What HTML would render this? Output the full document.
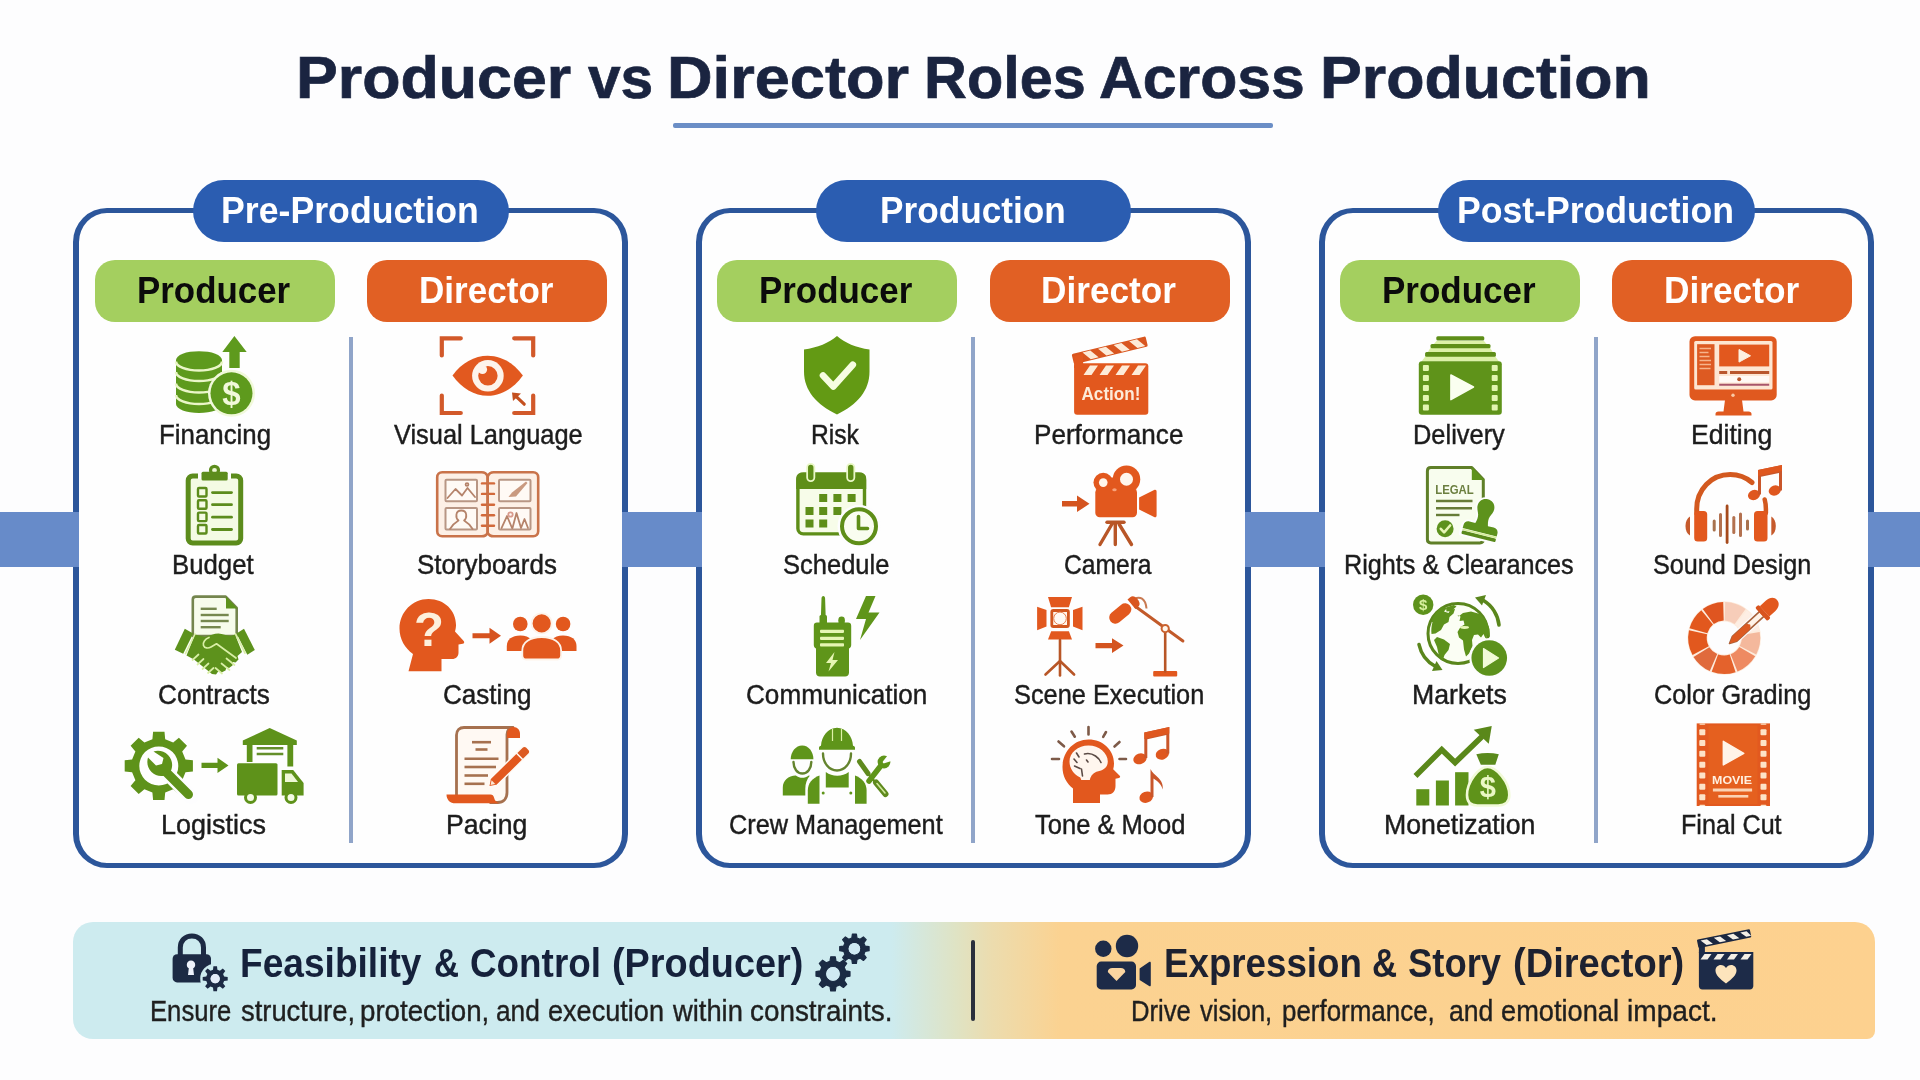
<!DOCTYPE html>
<html lang="en">
<head>
<meta charset="utf-8">
<title>Producer vs Director Roles Across Production</title>
<style>
*{box-sizing:border-box;margin:0;padding:0}
html,body{width:1920px;height:1080px;overflow:hidden;background:#fdfdfe}
body{font-family:"Liberation Sans",Arial,sans-serif;color:#1f1f1f}
ul{list-style:none}
.page{position:relative;width:1920px;height:1080px;background:#fdfdfe;filter:blur(.55px)}
.t{position:absolute;top:0;display:block;white-space:nowrap;transform-origin:0 50%}
.title{position:absolute;left:0;top:43px;width:1920px;height:70px;font-size:58.5px;line-height:70px;font-weight:700;color:#1a2440;-webkit-text-stroke:0.7px #1a2440}
.rule{position:absolute;left:673px;top:123px;width:600px;height:5px;background:#6b8ec6;border-radius:2px}
.band{position:absolute;top:512.3px;height:54.3px;background:#678bc9;z-index:2}
.panel{position:absolute;top:208px;height:660px;border:6px solid #2c569b;border-top-width:5px;border-bottom-width:5px;border-radius:34px;background:#fefefe}
.phase{position:absolute;top:-33px;height:62px;border-radius:31px;background:#2b5db1;color:#fff;font-size:36.5px;line-height:61px;font-weight:700}
.vline{position:absolute;top:124px;width:4.4px;height:506px;background:#90a5c9;margin-left:.3px}
.col{position:absolute;top:0;width:240px;height:650px}
.role{position:absolute;left:0;top:47px;width:240px;height:62px;border-radius:20px;font-size:36px;line-height:61.5px;font-weight:700}
.prod .role{background:#a4cf5f;color:#0b0b0b}
.dire .role{background:#e16024;color:#fff}
.items{position:absolute;left:-20px;top:120px;width:280px;height:520px}
.item{position:absolute;left:0;width:280px;height:130px}
.r0{top:0}.r1{top:130px}.r2{top:260px}.r3{top:390px}
.ic{position:absolute;left:0;top:0;width:280px;height:96px}
.ic svg{position:absolute;left:0;top:0;width:280px;height:96px;overflow:visible}
.lb{top:83.5px;height:36px;font-size:28px;line-height:36px;color:#1c1c1c;-webkit-text-stroke:0.45px #1c1c1c}
.banner{position:absolute;left:73px;top:922px;width:1802px;height:117px;border-radius:20px 20px 8px 20px;background:linear-gradient(90deg,#cdebef 0%,#cdebef 45.4%,#dfe3c4 49%,#ecdcae 51%,#fbd291 54.8%,#fdd18f 100%)}
.bhalf{position:static}
.bdiv{position:absolute;left:898px;top:18px;width:4px;height:81px;background:#2a2f3c;border-radius:2px}
.bh{position:absolute;left:0;top:15.6px;width:1802px;height:50px;font-size:40px;line-height:50px;font-weight:700;color:#15213b}
.bs{position:absolute;left:0;top:71px;width:1802px;height:36px;font-size:29.5px;line-height:36px;color:#1f1f1f;-webkit-text-stroke:0.4px #1f1f1f}
.bi{position:absolute;width:60px;height:60px}
.bi svg{position:absolute;left:0;top:0;width:60px;height:60px;overflow:visible}

.b2{color:#1d2130}

</style>
</head>
<body>
<main class="page">
<h1 class="title"><span class="t w" style="left:296.29px;transform:scaleX(1.0713)">Producer</span> <span class="t w" style="left:587.5px;transform:scaleX(1.0026)">vs</span> <span class="t w" style="left:666.76px;transform:scaleX(1.0791)">Director</span> <span class="t w" style="left:923.85px;transform:scaleX(1.0151)">Roles</span> <span class="t w" style="left:1098.86px;transform:scaleX(1.0372)">Across</span> <span class="t w" style="left:1319.59px;transform:scaleX(1.0713)">Production</span></h1>
<div class="rule"></div>
<div class="band" style="left:-10px;width:88.5px"></div>
<div class="band" style="left:622.2px;width:80px"></div>
<div class="band" style="left:1245px;width:80.2px"></div>
<div class="band" style="left:1868px;width:60px"></div>
<section class="panel" style="left:73px;width:555px">
<h2 class="phase" style="left:114px;width:315.5px"><span class="t pt" style="left:28.04px;transform:scaleX(0.9776)">Pre-Production</span></h2>
<div class="vline" style="left:269.5px"></div>
<div class="col prod" style="left:16px">
<h3 class="role"><span class="t rt" style="left:41.86px;transform:scaleX(0.969)">Producer</span></h3>
<ul class="items">
<li class="item r0"><div class="ic"><svg viewBox="75 333 280 96" aria-hidden="true"><g fill="#5e9a1d"><path d="M176 360v44c0 5 10.300 9 23 9s23-4 23-9v-44z"/><ellipse cx="199" cy="360" rx="23" ry="8.800"/><path d="M234.400 336l12.300 16h-7v16h-10.400v-16h-7z"/></g><g fill="none" stroke="#eaf6c8" stroke-width="2.600"><path d="M176 361.500c0 5 10.300 9 23 9s23-4 23-9"/><path d="M176 372c0 5 10.300 9 23 9s23-4 23-9"/><path d="M176 383.500c0 5 10.300 9 23 9s23-4 23-9"/><path d="M176 395c0 5 10.300 9 23 9s23-4 23-9"/></g><circle cx="231.500" cy="393.300" r="23.500" fill="#f1f9da"/><circle cx="231.500" cy="393.300" r="21" fill="#5e9a1d"/><text x="231.500" y="405" text-anchor="middle" font-family="Liberation Sans,Arial,sans-serif" font-weight="700" font-size="33" fill="#f1f9da">$</text></svg></div><span class="t lb" style="left:83.65px;transform:scaleX(0.9233)">Financing</span></li>
<li class="item r1"><div class="ic"><svg viewBox="75 463 280 96" aria-hidden="true"><rect x="188.200" y="476" width="52.500" height="67" rx="4.500" fill="#f4fbe4" stroke="#5c8c1c" stroke-width="5"/><rect x="198" y="470" width="33" height="9" fill="#fdfdfe"/><circle cx="214.500" cy="470.300" r="4" fill="#eef8d6" stroke="#5c8c1c" stroke-width="3.200"/><rect x="201.500" y="471.800" width="26.200" height="8.800" rx="1.500" fill="#5c8c1c"/><g fill="none" stroke="#5c8c1c" stroke-width="2.400"><rect x="198" y="488" width="8.500" height="8.500" rx="1"/><rect x="198" y="500.200" width="8.500" height="8.500" rx="1"/><rect x="198" y="512.600" width="8.500" height="8.500" rx="1"/><rect x="198" y="525" width="8.500" height="8.500" rx="1"/></g><g fill="none" stroke="#5c8c1c" stroke-width="2.800" stroke-linecap="round"><path d="M212.500 492.600h19"/><path d="M212.500 504.700h19"/><path d="M212.500 517.200h19"/><path d="M212.500 529.500h19"/></g></svg></div><span class="t lb" style="left:97.16px;transform:scaleX(0.9199)">Budget</span></li>
<li class="item r2"><div class="ic"><svg viewBox="75 593 280 96" aria-hidden="true"><path d="M192.800 636v-36.500c0-1.700 1.200-2.900 2.900-2.900h30l11 11.400v28z" fill="#f7fcec" stroke="#74854e" stroke-width="2.600" stroke-linejoin="round"/><path d="M226 596.500l11.500 12h-11.500z" fill="#5d921c"/><g fill="none" stroke="#76884f" stroke-width="2.400"><path d="M200.700 608.800h16"/><path d="M200.700 615h28"/><path d="M200.700 621h28"/><path d="M200.700 627.200h20"/></g><g fill="#5d921c"><path d="M184.800 628.800l8.400 4.600-10 20.400-8.400-4.100z"/><path d="M244 628.800l10.800 21.200-7.500 4.700-10.800-21.300z"/><path d="M195 634.500l10 2.500c5-1.500 9-3.500 13.500-3.500 4 0 8 2.500 12.500 2.500l4-1.500 7 17.500-4.500 4 1 3.500-3 3-2.500-.5-.5 3.500-3.500 2.500-2.500-1-1 3.500-4 2-3-1.500-2.500 3.500-4-.5-18-14.500-7.500-4z"/></g><g fill="none" stroke="#d9efa6" stroke-width="1.700" stroke-linecap="round" stroke-linejoin="round"><path d="M195 634l-9.500 19.500"/><path d="M235.500 634l9.500 19"/><path d="M209 637.500c-4 1.500-6.500 5-5.500 8 1 2.800 4.500 3.200 7.500 1.500l5.500-3.200 19.500 14.200"/><path d="M192.500 660l6-5.500M197.500 664.500l6-5.500M202.500 669l6-5.500M208 673l5.500-5"/><path d="M221.500 663.500l8 6.500M226.500 658.500l8 6.500M215.500 668l6.500 5.500"/></g></svg></div><span class="t lb" style="left:83.07px;transform:scaleX(0.9336)">Contracts</span></li>
<li class="item r3"><div class="ic"><svg viewBox="75 723 280 96" aria-hidden="true"><path d="M152.4 739.2L153.1 731.8L164.5 731.8L165.2 739.2L173.2 742.5L178.9 737.7L187.0 745.8L182.2 751.5L185.5 759.5L192.9 760.2L192.9 771.6L185.5 772.3L182.2 780.3L187.0 786.0L178.9 794.1L173.2 789.3L165.2 792.6L164.5 800.0L153.1 800.0L152.4 792.6L144.4 789.3L138.7 794.1L130.6 786.0L135.4 780.3L132.1 772.3L124.7 771.6L124.7 760.2L132.1 759.5L135.4 751.5L130.6 745.8L138.7 737.7L144.4 742.5zM139.3 765.9a19.5 19.5 0 1 0 39.0 0a19.5 19.5 0 1 0 -39.0 0z" fill="#5e921a" fill-rule="evenodd"/><path d="M158 764l33 33" stroke="#fdfdfe" stroke-width="14" stroke-linecap="round" fill="none"/><path d="M163 769l25.500 25.500" stroke="#5e921a" stroke-width="9" stroke-linecap="round" fill="none"/><path d="M153.500 751.500c5-1.500 10.500-.5 14.500 3.500 5 5 5.500 12.500 1.500 18-5.500 4.500-13 4-18-1-4-4-5-9.500-3.500-14.500l8 8 6-1.500 1.500-6z" fill="#5e921a"/><path d="M201.500 762.700h16v-5l11 7.700-11 7.700v-5h-16z" fill="#5e921a"/><path d="M269.700 727.900l27.100 12.600v4.500h-54v-4.500z" fill="#5e921a"/><path d="M246.800 744h5.700v18h-5.700zM287.400 744h5.800v22.500h-5.800z" fill="#5e921a"/><path d="M256.700 748.200h26.600M256.700 754h26.600" stroke="#648f2a" stroke-width="2.400" fill="none"/><rect x="237" y="763.300" width="40.500" height="32.300" rx="1.500" fill="#5e921a"/><path d="M281.700 770h11.500l10.400 13v12.600h-21.900z" fill="#5e921a"/><path d="M285 773.500h6.500l6.500 8.500h-13z" fill="#eef8d6"/><g fill="#f4fbe4" stroke="#5e921a" stroke-width="3"><circle cx="250.500" cy="797.500" r="5"/><circle cx="291" cy="797.500" r="5"/></g></svg></div><span class="t lb" style="left:86.07px;transform:scaleX(0.9628)">Logistics</span></li>
</ul></div>
<div class="col dire" style="left:287.5px">
<h3 class="role"><span class="t rt" style="left:52.05px;transform:scaleX(0.974)">Director</span></h3>
<ul class="items">
<li class="item r0"><div class="ic"><svg viewBox="346.5 333 280 96" aria-hidden="true"><g fill="none" stroke="#d2592a" stroke-width="4.200" stroke-linecap="round" stroke-linejoin="miter"><path d="M441.300 355.500v-17.200h19"/><path d="M513.700 338.300h19v17.200"/><path d="M441.300 395.500v17.500h19"/><path d="M513.700 413h19v-17.500"/></g><path d="M452 375.500c9-12.500 22-19.700 35.200-19.700s26.200 7.200 35.200 19.700c-9 12.800-22 20.300-35.200 20.300s-26.200-7.500-35.200-20.300z" fill="#e2591f"/><circle cx="487.400" cy="375.800" r="15.800" fill="#fdf3ea"/><circle cx="487.400" cy="375.800" r="9.700" fill="#e2591f"/><circle cx="482" cy="369.500" r="4.600" fill="#fdf3ea"/><path d="M523.700 404.200l-9-8.600" fill="none" stroke="#c4501f" stroke-width="3.200" stroke-linecap="round"/><path d="M511.500 392.500l9 1-8 7.500z" fill="#c4501f"/></svg></div><span class="t lb" style="left:47.3px;transform:scaleX(0.9068)">Visual Language</span></li>
<li class="item r1"><div class="ic"><svg viewBox="346.5 463 280 96" aria-hidden="true"><g fill="#fdf0e6" stroke="#c9734a" stroke-width="2.600" stroke-linejoin="round"><path d="M487.200 476.500c-1-2.600-3-4.200-6-4.200h-39.500c-3 0-5 2-5 5v54c0 3 2 5 5 5h39.500c3 0 5-1.500 6-3.500z"/><path d="M487.200 476.500c1-2.600 3-4.200 6-4.200h39.500c3 0 5 2 5 5v54c0 3-2 5-5 5h-39.500c-3 0-5-1.500-6-3.500z"/></g><g fill="#fffaf5" stroke="#b89684" stroke-width="2"><rect x="445" y="479.800" width="31.500" height="21.500" rx="1"/><rect x="445" y="508" width="31.500" height="21.500" rx="1"/><rect x="498.500" y="479.800" width="31.500" height="21.500" rx="1"/><rect x="498.500" y="508" width="31.500" height="21.500" rx="1"/></g><g fill="none" stroke="#b5836a" stroke-width="1.800" stroke-linejoin="round" stroke-linecap="round"><path d="M447 498l8-9 6.500 6.500 5.500-7.500 7.500 9"/><circle cx="466.500" cy="484.500" r="1.400"/><path d="M449.500 529c3-5 6-7 8.500-8.500-3-2.500-3.500-10 2.800-10s5.800 7.500 2.800 10c2.500 1.500 5.500 3.500 8.500 8.500"/><path d="M501 528l5.500-12 5 12M512 528l4-15 4.500 15M520.500 528l3.500-9 3.500 9"/><circle cx="510" cy="514.500" r="2.200" stroke="#d99a8c"/><path d="M508 497l3.500-4.500 14-11 1.500 1.500-11.500 13.500z" fill="#c99a80" stroke="none"/></g><g fill="none" stroke="#d2693a" stroke-width="2.400" stroke-linecap="round"><path d="M481.500 483.400h12"/><path d="M481.500 493.900h12"/><path d="M481.500 504.700h12"/><path d="M481.500 515.300h12"/><path d="M481.500 525.700h12"/></g><path d="M487.200 475v59" stroke="#c9734a" stroke-width="1.800" fill="none"/></svg></div><span class="t lb" style="left:70.57px;transform:scaleX(0.9264)">Storyboards</span></li>
<li class="item r2"><div class="ic"><svg viewBox="346.5 593 280 96" aria-hidden="true"><path d="M428 599c16 0 27.500 11.500 27.500 26 0 2.500-.5 4.500-1 6.500l8.700 9.500c1 1.200.5 2.500-1 2.800l-4.200.7v8c0 4-2.500 6.500-6.500 6.500h-10.500v12.300h-33l4.500-17.300c-8-6-13.500-14.500-13.500-25.500 0-16.500 13-29.500 29-29.500z" fill="#e2581e"/><text x="428.500" y="645.500" text-anchor="middle" font-family="Liberation Sans,Arial,sans-serif" font-weight="700" font-size="49" fill="#fdf0dc">?</text><path d="M472 633.200h17v-5.500l11.500 8-11.500 8v-5.500h-17z" fill="#d6531f"/><g fill="#e2581e"><circle cx="519.800" cy="624" r="7.300"/><circle cx="562.600" cy="624" r="7.300"/><path d="M506.300 651v-5c0-6.500 5-10.600 13.500-10.600 5 0 8.500 1.500 10.500 4l-7 11.600z"/><path d="M576 651v-5c0-6.500-5-10.600-13.500-10.600-5 0-8.500 1.500-10.500 4l7 11.600z"/></g><g fill="#e2581e" stroke="#fdf3ea" stroke-width="1.800"><circle cx="541.200" cy="623.400" r="10"/><path d="M521.800 655.500v-5c0-8 7.500-13.500 19.400-13.500s19.400 5.500 19.400 13.500v5c0 2.500-1.500 4-4 4h-30.800c-2.500 0-4-1.500-4-4z"/></g></svg></div><span class="t lb" style="left:96.57px;transform:scaleX(0.9311)">Casting</span></li>
<li class="item r3"><div class="ic"><svg viewBox="346.5 723 280 96" aria-hidden="true"><path d="M456 796v-61c0-4.500 3-7.500 7.500-7.500h49c-4 0-6 3-6 7v58c0 6-3.500 10-9.500 10h-8" fill="#fff9f3" stroke="#a6714f" stroke-width="2.800" stroke-linejoin="round"/><path d="M506.500 738v-4c0-4 2.500-7 6.500-7s6.500 3 6.500 7v4z" fill="#e2581e"/><path d="M446 794.500h44c2 0 3 1 3.500 3 .8 3.200 2.500 5 5.500 5.800h-44c-5.500 0-9-3.500-9-8.800z" fill="#e2581e"/><g fill="none" stroke="#a6714f" stroke-width="2.600"><path d="M471.500 742.200h19"/><path d="M475 749.500h12"/><path d="M464 758.800h34"/><path d="M464 767h31.500"/><path d="M464 775.500h23.500"/><path d="M464 783.800h20"/></g><g transform="rotate(-44.500 489 786)"><path d="M487 786l6-5.500h46c2 0 3.500 1.500 3.500 3.500v4c0 2-1.500 3.500-3.500 3.500h-46z" fill="#fffaf5"/><path d="M489 786l5.500-3.800v-.2h36v8h-36v-.2z" fill="#e2581e" transform="translate(0 0)"/><path d="M530.500 782h7.500c1.500 0 2.500 1 2.500 2.500v3c0 1.500-1 2.500-2.500 2.500h-7.500z" fill="#dc5a22" transform="translate(1.500 0)"/><path d="M490.500 786l4-2.600v5.200z" fill="#fde7d2"/></g></svg></div><span class="t lb" style="left:99.6px;transform:scaleX(0.9507)">Pacing</span></li>
</ul></div>
</section>
<section class="panel" style="left:696px;width:555px">
<h2 class="phase" style="left:113.5px;width:315.7px"><span class="t pt" style="left:64.57px;transform:scaleX(0.9639)">Production</span></h2>
<div class="vline" style="left:268.5px"></div>
<div class="col prod" style="left:15px">
<h3 class="role"><span class="t rt" style="left:42.26px;transform:scaleX(0.9697)">Producer</span></h3>
<ul class="items">
<li class="item r0"><div class="ic"><svg viewBox="697 333 280 96" aria-hidden="true"><path d="M837 336c8 7 19 11.500 32.500 13.500v22c0 19-12 33-32.500 43-20.500-10-33-24-33-43v-22c13.500-2 25-6.500 33-13.500z" fill="#639a14"/><path d="M823 375.500l10.300 11 19.500-21.800" fill="none" stroke="#f6fde0" stroke-width="6.600" stroke-linecap="round" stroke-linejoin="round"/></svg></div><span class="t lb" style="left:114.24px;transform:scaleX(0.8795)">Risk</span></li>
<li class="item r1"><div class="ic"><svg viewBox="697 463 280 96" aria-hidden="true"><rect x="797.900" y="474.300" width="66.600" height="59.600" rx="5.500" fill="#f7fce9" stroke="#5e8e18" stroke-width="3.400"/><path d="M796.200 489v-10.500c0-3.500 2.500-6 6-6h58c3.500 0 6 2.500 6 6v10.500z" fill="#5e8e18"/><g fill="none" stroke-linecap="round"><path d="M810.750 467.500v10M850.750 467.500v10" stroke="#e9f7c6" stroke-width="9"/><path d="M810.750 467.500v10M850.750 467.500v10" stroke="#5e8e18" stroke-width="5.400"/></g><g fill="#5e8e18"><rect x="819.200" y="494" width="8" height="8"/><rect x="833.400" y="494" width="8" height="8"/><rect x="847.600" y="494" width="8" height="8"/><rect x="805.500" y="507" width="8" height="8"/><rect x="819.200" y="507" width="8" height="8"/><rect x="833.400" y="507" width="8" height="8"/><rect x="805.500" y="519.500" width="8" height="8"/><rect x="819.200" y="519.500" width="8" height="8"/></g><circle cx="859" cy="526.300" r="21.500" fill="#fdfdfe"/><circle cx="859" cy="526.300" r="17" fill="#f9fdf0" stroke="#5e8e18" stroke-width="4"/><path d="M858.500 516.500v12h9" fill="none" stroke="#5e8e18" stroke-width="3.600" stroke-linecap="round" stroke-linejoin="round"/></svg></div><span class="t lb" style="left:86.09px;transform:scaleX(0.9116)">Schedule</span></li>
<li class="item r2"><div class="ic"><svg viewBox="697 593 280 96" aria-hidden="true"><g fill="#5f951a"><path d="M820.700 623l.8-24.500c0-1.500 .8-2.500 1.800-2.500s1.800 1 1.800 2.500l.8 24.500z"/><rect x="819.500" y="615" width="7.500" height="9" rx="1.500"/><circle cx="841.600" cy="619.700" r="3.200"/><rect x="838.500" y="619.700" width="6.200" height="4"/><path d="M817 622.500h31c2 0 3.200 1.200 3.200 3.200v19.300c0 2-1 3-2.200 3.500v24c0 2.500-1.500 4-4 4h-25c-2.500 0-4-1.500-4-4v-24c-1.200-.5-2.200-1.500-2.200-3.500v-19.300c0-2 1.200-3.200 3.200-3.200z"/><path d="M866 596h9.500l-7 16.500h11l-19.500 27.500 6-21h-10z"/></g><g fill="#e6f6b4"><rect x="820" y="629.700" width="24" height="3.200" rx=".8"/><rect x="820" y="636.700" width="24" height="3.200" rx=".8"/><rect x="820" y="643.300" width="24" height="3.200" rx=".8"/><path d="M834.500 652l-8.500 11h5l-2.500 8.500 9.500-11.500h-5.500z"/></g></svg></div><span class="t lb" style="left:49.07px;transform:scaleX(0.9325)">Communication</span></li>
<li class="item r3"><div class="ic"><svg viewBox="697 723 280 96" aria-hidden="true"><g fill="#5f951a"><path d="M790.700 759.300c0-7.500 5-13.800 11.500-13.800s11.200 6.300 11.200 13.800z"/><path d="M782.800 795.500v-8c0-7 5.500-12 13-12 2 1.500 4.500 2.300 6.500 2.300s4.500-.8 6.500-2.300l1 .2c-3 3.500-4.500 8-4.500 13v6.800z"/><path d="M819 749.700v-2c0-1 .8-1.800 2-2 .5-9.500 7-18 16-18s15.500 8.500 16 18c1.200.2 2 1 2 2v2z"/><path d="M825.800 772c3.500 2.500 7 3.800 11.400 3.800s8-1.300 11.500-3.800v15.600h-22.900z"/><path d="M819.500 775.500v28.300h-11.700v-13.300c0-7 4.500-12.500 11.700-15z"/><path d="M855 775.500v28.300h11.600v-13.300c0-7-4.500-12.500-11.600-15z"/><circle cx="823.200" cy="793" r="1.500"/><circle cx="850.800" cy="793" r="1.500"/></g><path d="M832.500 729v12M841.500 729v12" stroke="#dff2a8" stroke-width="1.200" fill="none"/><g fill="none" stroke="#64842e" stroke-width="2.400" stroke-linecap="round"><path d="M793.500 762c0 6.500 3.800 11.500 8.900 11.500s8.900-5 8.900-11.500"/><path d="M823 753.500c0 9.500 6 17 14 17s14-7.500 14-17"/></g><g fill="none" stroke-linecap="round"><path d="M859.500 761.500l8.500 12" stroke="#5f8a1e" stroke-width="5"/><path d="M868 773.500l7.500 9" stroke="#5f8a1e" stroke-width="2.500"/><path d="M876 782.500l9.500 11.500" stroke="#5f8a1e" stroke-width="6"/><path d="M877 783.500l8 9.500" stroke="#cfe79a" stroke-width="1.600"/><path d="M869 781l12-15.500" stroke="#5f951a" stroke-width="5.500"/></g><circle cx="884" cy="762" r="6.400" fill="#5f951a"/><path d="M884 762l9-8.500 3 6.500z" fill="#fefefe" stroke="#fefefe" stroke-width="2.500" stroke-linejoin="round" transform="rotate(-8 884 762)"/></svg></div><span class="t lb" style="left:32.1px;transform:scaleX(0.9034)">Crew Management</span></li>
</ul></div>
<div class="col dire" style="left:287.5px">
<h3 class="role"><span class="t rt" style="left:51.04px;transform:scaleX(0.9777)">Director</span></h3>
<ul class="items">
<li class="item r0"><div class="ic"><svg viewBox="969.5 333 280 96" aria-hidden="true"><rect x="1073.600" y="363.300" width="74.200" height="51.500" rx="3" fill="#e2581e"/><g fill="#fdebd8"><path d="M1089.500 365.500h8l-6.500 9.500h-8zM1105.500 365.500h8l-6.500 9.500h-8zM1121.500 365.500h8l-6.500 9.500h-8zM1137.500 365.500h8l-6.500 9.500h-8z"/></g><g transform="translate(1.500 6) rotate(-13.500 1073 358)"><rect x="1072" y="347.500" width="76" height="10.500" rx="1.500" fill="#d9561f"/><path d="M1083 348.500h8l6.500 8.500h-8zM1099 348.500h8l6.500 8.500h-8zM1115 348.500h8l6.500 8.500h-8zM1131 348.500h8l6.500 8.500h-8z" fill="#fdebd8"/></g><path d="M1073.600 356l9-2v14h-9z" fill="#e2581e"/><text x="1110.500" y="400.400" text-anchor="middle" font-family="Liberation Sans,Arial,sans-serif" font-weight="700" font-size="18.500" textLength="59" lengthAdjust="spacingAndGlyphs" fill="#fdebd8">Action!</text></svg></div><span class="t lb" style="left:64.64px;transform:scaleX(0.9321)">Performance</span></li>
<li class="item r1"><div class="ic"><svg viewBox="969.5 463 280 96" aria-hidden="true"><g fill="#e2581e"><circle cx="1102.750" cy="482.600" r="9.800"/><circle cx="1126" cy="479.250" r="13.750"/><path d="M1104 477.500h14v13h-14z"/><rect x="1094.800" y="488" width="41.700" height="29.200" rx="4.500"/><path d="M1138.600 497.500l15-7.500c1.500-.8 2.500 0 2.500 1.500v24c0 1.500-1 2.300-2.500 1.500l-15-7.500z"/><path d="M1061.500 501h15v-5.500l12.500 8.300-12.500 8.300v-5.500h-15z" fill="#d4541f"/></g><circle cx="1102.750" cy="482.600" r="4.300" fill="#fff6ec"/><circle cx="1126" cy="479.250" r="6.500" fill="#fff6ec"/><ellipse cx="1114" cy="489.800" rx="2.200" ry="1.500" fill="#f7a27a"/><g fill="none" stroke="#b85627" stroke-width="3.400" stroke-linecap="round"><path d="M1106.500 522.200h17"/><path d="M1111.500 524l-12 20.500M1114.800 524v20.500M1118.500 524l12.500 20.500"/></g></svg></div><span class="t lb" style="left:94.62px;transform:scaleX(0.8787)">Camera</span></li>
<li class="item r2"><div class="ic"><svg viewBox="969.5 593 280 96" aria-hidden="true"><g fill="#e2581e"><path d="M1047.500 597h24l-3.100 10.300h-17.800z"/><path d="M1050.700 631.200h17.700l3.100 8.400h-24z"/><path d="M1036.600 606.800l9.400 3.200v16.500l-9.400 3.700z"/><path d="M1082 606.800l-9.500 3.200v16.500l9.500 3.700z"/><path d="M1095 643h16.500v-4.800l11.500 7.400-11.500 7.400v-4.800h-16.500z" fill="#d4541f"/><rect x="1152.700" y="671" width="24" height="5.500" rx="1"/></g><rect x="1051.300" y="610.500" width="16.600" height="16" rx="1.500" fill="#fff6ec" stroke="#d2571f" stroke-width="2.800"/><circle cx="1059.500" cy="618.400" r="6.300" fill="#fffaf4" stroke="#e8804f" stroke-width="1"/><g fill="none" stroke="#b85627" stroke-width="2.600" stroke-linecap="round"><path d="M1059.500 640v35.500"/><path d="M1059.500 661l-14.500 13.500M1059.500 661l14.100 13.500"/><path d="M1164.700 632.500v39"/></g><path d="M1135 606.500l47.400 34.500" fill="none" stroke="#c25a2a" stroke-width="3" stroke-linecap="round"/><path d="M1134 599c5-3 11-1 12 9.500" fill="none" stroke="#c97a52" stroke-width="2"/><g transform="rotate(-39.500 1124 610)"><rect x="1106" y="603.800" width="25" height="12.400" rx="6.200" fill="#e2581e"/><path d="M1133 603.800h3.500c3 0 4.500 2.500 4.500 6.200s-1.500 6.200-4.500 6.200h-3.500z" fill="#d9561f"/></g><circle cx="1164.700" cy="628.600" r="3.600" fill="#fff6ec" stroke="#c9622f" stroke-width="2"/></svg></div><span class="t lb" style="left:44.59px;transform:scaleX(0.9057)">Scene Execution</span></li>
<li class="item r3"><div class="ic"><svg viewBox="969.5 723 280 96" aria-hidden="true"><path d="M1088 739.500c14.500 0 25.500 10.500 25.500 24 0 2-.3 4-.8 5.800l6.500 6.500c.8 1 .5 2-.8 2.300l-3.400.7v7.200c0 5-3 8.500-8 8.500h-7.500v8.500h-27v-14.500c-6.500-5-10.500-12.500-10.500-21.500 0-15.500 11.500-27.500 26-27.500z" fill="#e2581e"/><path d="M1088 745.500c10.500 0 19.300 7.500 19.300 16 0 5-3.500 8.500-8.500 9.500-4 .8-7.500 3-9 7l-.5 2h-8.500l-1-2.500c-6.500-3-10.800-9-10.800-16 0-9 8.500-16 19-16z" fill="#fff6ee"/><g fill="none" stroke="#5a4a44" stroke-width="1.600" stroke-linecap="round"><path d="M1076 753l2.500 4M1073.500 759l3 3.500M1074 766l5.500 2.500M1081 769l1 7"/><path d="M1084 754c4-1 8 0 11 2s4.500 4 5.500 6.500"/><path d="M1086 760l1.500 2"/></g><g fill="none" stroke="#7d5a48" stroke-width="2.600" stroke-linecap="round"><path d="M1051.500 759h7M1058 741.500l5.500 4.800M1071 731.500l3.300 5.200M1088 727v7.500M1105.500 732l-2.800 4.800M1119 742l-5 4.500M1119 759h6.500"/></g><g fill="#df571f"><ellipse cx="1139.500" cy="758.800" rx="6.800" ry="5.300" transform="rotate(-20 1139.500 758.800)"/><ellipse cx="1161.800" cy="754.200" rx="6.800" ry="5.300" transform="rotate(-20 1161.800 754.200)"/><path d="M1143.800 758v-25.500l25-5.500v26.500h-3v-18.500l-19 4.200v18.800z" fill="#c9562a"/><path d="M1143.800 732.500l25-5.500v6.500l-25 5.500z"/><ellipse cx="1145.700" cy="797.200" rx="7" ry="5.500" transform="rotate(-20 1145.700 797.200)"/><path d="M1150 797v-28c1.500 3.500 5 6 8 9s5 7 4 11.500c-.5-3.500-3-6.500-5.500-8.500l-3.500-2.500v18.500z" fill="#c9562a"/></g></svg></div><span class="t lb" style="left:65.5px;transform:scaleX(0.9118)">Tone &amp; Mood</span></li>
</ul></div>
</section>
<section class="panel" style="left:1319px;width:555px">
<h2 class="phase" style="left:113px;width:316.5px"><span class="t pt" style="left:18.85px;transform:scaleX(0.9755)">Post-Production</span></h2>
<div class="vline" style="left:268.5px"></div>
<div class="col prod" style="left:14.5px">
<h3 class="role"><span class="t rt" style="left:42.36px;transform:scaleX(0.9722)">Producer</span></h3>
<ul class="items">
<li class="item r0"><div class="ic"><svg viewBox="1319.5 333 280 96" aria-hidden="true"><path d="M1436 341h47.500l6.500 7.500 5.500 9 3 4h-77.500l3-4 5.500-9z" fill="#dcf0a8"/><g fill="#5e8e18"><rect x="1435.800" y="336.200" width="48" height="4.400" rx="1.500"/><rect x="1430" y="344" width="60" height="4.200" rx="1.500"/><rect x="1424.600" y="352" width="70.800" height="4.800" rx="1.500"/><rect x="1418.300" y="361.200" width="83" height="53.600" rx="3" fill="#5f931a"/></g><g fill="#e2f5b0"><rect x="1422.400" y="365" width="6" height="6" rx="1"/><rect x="1422.400" y="375" width="6" height="6" rx="1"/><rect x="1422.400" y="385" width="6" height="6" rx="1"/><rect x="1422.400" y="395" width="6" height="6" rx="1"/><rect x="1422.400" y="404.600" width="6" height="6" rx="1"/><rect x="1491.200" y="365" width="6" height="6" rx="1"/><rect x="1491.200" y="375" width="6" height="6" rx="1"/><rect x="1491.200" y="385" width="6" height="6" rx="1"/><rect x="1491.200" y="395" width="6" height="6" rx="1"/><rect x="1491.200" y="404.600" width="6" height="6" rx="1"/></g><path d="M1450.400 375l22.600 12-22.600 12.600z" fill="#fafff0" stroke="#fafff0" stroke-width="1.500" stroke-linejoin="round"/></svg></div><span class="t lb" style="left:93.68px;transform:scaleX(0.9079)">Delivery</span></li>
<li class="item r1"><div class="ic"><svg viewBox="1319.5 463 280 96" aria-hidden="true"><path d="M1426.900 471c0-2 1.300-3.400 3.400-3.400h41l11.500 12v60c0 2-1.300 3.300-3.400 3.300h-49.100c-2 0-3.400-1.300-3.400-3.300z" fill="#f8fdee" stroke="#5f7f28" stroke-width="3" stroke-linejoin="round"/><path d="M1471.300 467l12.500 13h-12.500z" fill="#5d921c"/><text x="1454" y="493.800" text-anchor="middle" font-family="Liberation Sans,Arial,sans-serif" font-weight="700" font-size="12.500" textLength="38.500" lengthAdjust="spacingAndGlyphs" fill="#6b7f3f">LEGAL</text><g fill="none" stroke="#667c36" stroke-width="2.400"><path d="M1435.500 501h36.500"/><path d="M1435.500 508.300h36"/><path d="M1435.500 515h23.500"/></g><circle cx="1444.600" cy="528.800" r="8.500" fill="#5d921c"/><path d="M1440.300 528.800l3.300 3.500 6-6.800" fill="none" stroke="#e6f6b4" stroke-width="2.600" stroke-linecap="round" stroke-linejoin="round"/><g transform="translate(2 3) rotate(14 1479 520)"><path d="M1462 526h35v9h-35z" fill="#fdfdfe" stroke="#fdfdfe" stroke-width="5" stroke-linejoin="round"/><path d="M1479.500 495.500c5 0 8.500 3.500 8.500 8.500 0 3-1.500 5-2.500 8-1 3-.5 6 .5 9.500h6c3 0 5 2 5 5v3h-35v-3c0-3 2-5 5-5h6c1-3.500 1.500-6.500.5-9.500-1-3-2.500-5-2.500-8 0-5 3.500-8.500 8.500-8.500z" fill="#fdfdfe" stroke="#fdfdfe" stroke-width="3.500"/><path d="M1479.500 495.500c5 0 8.500 3.500 8.500 8.500 0 3-1.500 5-2.500 8-1 3-.5 6 .5 9.500h6c3 0 5 2 5 5v3h-35v-3c0-3 2-5 5-5h6c1-3.500 1.500-6.500.5-9.500-1-3-2.500-5-2.500-8 0-5 3.500-8.500 8.500-8.500z" fill="#5d921c"/><rect x="1462" y="531.800" width="35" height="3.600" rx="1" fill="#5a8a1c"/><path d="M1462 530.600h35" stroke="#d6ee9a" stroke-width="1.600"/></g></svg></div><span class="t lb" style="left:24.7px;transform:scaleX(0.9)">Rights &amp; Clearances</span></li>
<li class="item r2"><div class="ic"><svg viewBox="1319.5 593 280 96" aria-hidden="true"><circle cx="1457.500" cy="633.400" r="30" fill="#fbfef4" stroke="#5a861c" stroke-width="3"/><g fill="#5d921c"><path d="M1431 622c1.500-6 5.500-11.500 10.500-15l5 1-3 3.500 4.500 1.500 2-3.500 4.500-.5-1.500 4.500-4 3.500-1 5-4.500 2.500-3 5.500-5.500 3.500-4 .5c-.5-4 0-8 1-12z"/><path d="M1445.500 607.500l7.500-2.500 3 1.500-5 4.500-5 .5z"/><path d="M1436.500 637l7 2.500 6 4.500-1.500 6-4 5-2 6-3.500-5-2-9-3-7z"/><path d="M1458 616.500l4.500-3.500 8-1.500 9 2.500 6 6 3.500 9 .5 8.500-2.500-3-2 4-2-4.500-2.500 3.500-3-3-4 .5-2 5 .5 6-3.500 7.500-3 3-2-7-1-9-4-3-1.500-5.500 3-5 4-2.500-1-4-4 .5 1-4.500-3-1.500z"/></g><ellipse cx="1464" cy="627.500" rx="4.500" ry="1.400" fill="#e6f6b4"/><circle cx="1422.700" cy="604.700" r="10.200" fill="#5d921c"/><text x="1422.700" y="610.200" text-anchor="middle" font-family="Liberation Sans,Arial,sans-serif" font-weight="700" font-size="15" fill="#d9f0a0">$</text><g fill="none" stroke="#5a861c" stroke-width="3.600" stroke-linecap="round"><path d="M1498.500 625c-1-10-7-19.500-15.500-24.500"/><path d="M1418.500 644.500c2 9.500 8 17.500 16.500 22"/></g><path d="M1474.500 597.500l11-2.500-4 10.500z" fill="#5a861c"/><path d="M1442 670l-10.500 1 4.500-10z" fill="#5a861c"/><circle cx="1488.750" cy="658" r="20" fill="#fdfdfe"/><circle cx="1488.750" cy="658" r="17.800" fill="#5d921c"/><path d="M1483 648.500l15 9.500-15 9.500z" fill="#f2fbd8" stroke="#f2fbd8" stroke-width="1.200" stroke-linejoin="round"/></svg></div><span class="t lb" style="left:92.59px;transform:scaleX(0.9527)">Markets</span></li>
<li class="item r3"><div class="ic"><svg viewBox="1319.5 723 280 96" aria-hidden="true"><path d="M1415 776l26.250-26.300 13.350 12.900 27-26.200" fill="none" stroke="#5a881a" stroke-width="5.600" stroke-linejoin="miter"/><path d="M1491.250 726l-18 3.700 15 14.100z" fill="#5a881a"/><g fill="#5f931a"><rect x="1415.800" y="789.200" width="13" height="16.300"/><rect x="1435.400" y="780.500" width="13" height="25"/><rect x="1454.600" y="772.200" width="13.400" height="33.300"/></g><path d="M1487 767c9 0 21.800 15 21.800 28 0 7-4.500 10.500-11 10.500h-21c-6.500 0-10.300-3.500-10.300-10.500 0-13 11.500-28 20.500-28z" fill="#5f931a" stroke="#f1fad8" stroke-width="2.600"/><path d="M1475.800 754.200c7-1.500 15.500-1.500 22.500 0l-3.500 10.500h-14.500z" fill="#5a8a1c"/><text x="1487.300" y="796.500" text-anchor="middle" font-family="Liberation Sans,Arial,sans-serif" font-weight="700" font-size="29" fill="#eaf8c4">$</text></svg></div><span class="t lb" style="left:64.59px;transform:scaleX(0.9537)">Monetization</span></li>
</ul></div>
<div class="col dire" style="left:286.5px">
<h3 class="role"><span class="t rt" style="left:52.04px;transform:scaleX(0.9792)">Director</span></h3>
<ul class="items">
<li class="item r0"><div class="ic"><svg viewBox="1591.5 333 280 96" aria-hidden="true"><rect x="1689" y="336.200" width="87.200" height="64.200" rx="5.500" fill="#e0591f"/><rect x="1693.700" y="341" width="78.300" height="48.600" rx="1.500" fill="#fde6d2"/><rect x="1696.600" y="344.200" width="17.400" height="41" fill="#dd5a22"/><g fill="none" stroke="#f7b48c" stroke-width="1.600"><path d="M1699 348.500h11.500M1699 352.500h9M1699 356.500h10M1699 360.500h11.500M1699 364.500h11.500M1699 368.500h11"/></g><rect x="1718.700" y="344.600" width="50" height="21.800" fill="#e2581e"/><path d="M1738.500 349.500l11.500 6.300-11.500 6.300z" fill="#fdf0e0" stroke="#fdf0e0" stroke-width="1" stroke-linejoin="round"/><path d="M1718.700 372.500h8M1729.500 372.500h39.200" stroke="#b9562c" stroke-width="3.200" fill="none"/><rect x="1718.700" y="376" width="50" height="6.500" fill="#fffaf5"/><circle cx="1738.700" cy="379.200" r="2" fill="#b9562c"/><path d="M1718.700 384.800h50" stroke="#a8566a" stroke-width="2" fill="none"/><circle cx="1732.500" cy="395.300" r="1.700" fill="#f9c9a4"/><path d="M1724.500 400h17l1.500 11.500h5c2 0 3 1 3 2.500v1.500h-36v-1.500c0-1.500 1-2.500 3-2.500h5z" fill="#e0591f"/></svg></div><span class="t lb" style="left:99.6px;transform:scaleX(0.9507)">Editing</span></li>
<li class="item r1"><div class="ic"><svg viewBox="1591.5 463 280 96" aria-hidden="true"><path d="M1696.200 513v-4c0-19.500 14.500-34.500 33.500-34.500 8.500 0 16 3 21.800 8" fill="none" stroke="#d3591f" stroke-width="5" stroke-linecap="round"/><path d="M1764.200 499.500c.8 3 1.200 6 1.200 9.500v4" fill="none" stroke="#d3591f" stroke-width="4.500" stroke-linecap="round"/><g fill="#e2581e"><rect x="1693.700" y="511" width="13" height="30.500" rx="3.500"/><rect x="1753.500" y="511" width="13.500" height="30.500" rx="3.500"/></g><g fill="#c65a2c"><path d="M1689.500 516.500v19c-2.800-1.500-4.500-5-4.500-9.500s1.700-8 4.500-9.500z"/><path d="M1770.800 516.500v19c2.800-1.500 4.500-5 4.500-9.500s-1.700-8-4.500-9.500z"/></g><g fill="none" stroke-linecap="round"><path d="M1726.600 506v36.500" stroke="#a64a1c" stroke-width="2.800"/><path d="M1720 514.500v21M1740 514v21.500" stroke="#b3714f" stroke-width="3"/><path d="M1733.300 517.500v15" stroke="#b3714f" stroke-width="3"/><path d="M1713.700 521v9M1747 521v8" stroke="#a8724e" stroke-width="3"/></g><g fill="#df571f"><ellipse cx="1753.500" cy="495" rx="6.200" ry="5" transform="rotate(-20 1753.500 495)"/><ellipse cx="1774.300" cy="490.500" rx="6.200" ry="5" transform="rotate(-20 1774.300 490.500)"/><path d="M1757.500 494.500v-24.500l24-5v25.500h-3v-17.500l-18 3.800v17.700z" fill="#c9562a"/><path d="M1757.500 470l24-5v6l-24 5z"/></g></svg></div><span class="t lb" style="left:61.6px;transform:scaleX(0.9)">Sound Design</span></li>
<li class="item r2"><div class="ic"><svg viewBox="1591.5 593 280 96" aria-hidden="true"><circle cx="1723.700" cy="638" r="36.800" fill="#fdebdc"/><circle cx="1723.700" cy="638" r="16.600" fill="#fdfdfe"/><path d="M1702.3 609.0A36.0 36.0 0 0 1 1722.7 602.0L1723.2 620.5A17.5 17.5 0 0 0 1713.3 623.9z" fill="#df5520"/><path d="M1689.0 628.3A36.0 36.0 0 0 1 1700.8 610.3L1712.5 624.5A17.5 17.5 0 0 0 1706.8 633.3z" fill="#e2581e"/><path d="M1692.0 655.1A36.0 36.0 0 0 1 1688.5 630.3L1706.6 634.2A17.5 17.5 0 0 0 1708.3 646.3z" fill="#e2581e"/><path d="M1709.3 671.0A36.0 36.0 0 0 1 1693.0 656.9L1708.8 647.2A17.5 17.5 0 0 0 1716.7 654.0z" fill="#e06a3c"/><path d="M1735.1 672.2A36.0 36.0 0 0 1 1711.2 671.7L1717.6 654.4A17.5 17.5 0 0 0 1729.2 654.6z" fill="#e4622c"/><path d="M1754.7 656.3A36.0 36.0 0 0 1 1737.0 671.5L1730.1 654.3A17.5 17.5 0 0 0 1738.8 646.9z" fill="#ee8a62"/><path d="M1759.2 632.1A36.0 36.0 0 0 1 1755.7 654.6L1739.2 646.1A17.5 17.5 0 0 0 1741.0 635.1z" fill="#f4b89c"/><path d="M1746.6 610.3A36.0 36.0 0 0 1 1758.8 630.1L1740.8 634.2A17.5 17.5 0 0 0 1734.9 624.5z" fill="#fdeee4"/><path d="M1724.7 602.0A36.0 36.0 0 0 1 1745.1 609.0L1734.1 623.9A17.5 17.5 0 0 0 1724.2 620.5z" fill="#f7cdb9"/><g transform="rotate(-42.500 1729 643.500)"><path d="M1727 643.500l8-5.200h40v10.400h-40z" fill="#fdfdfe"/><path d="M1729 643.500l7-3.300h37v6.600h-37z" fill="#fff3e8" stroke="#a8623c" stroke-width="1.600" stroke-linejoin="round"/><path d="M1729 643.500l7-3.300h16c3 0 4 1.500 5 3.300-1 1.800-2 3.300-5 3.300h-16z" fill="#dc5a22"/><rect x="1772" y="634.500" width="4.600" height="18" rx="1.500" fill="#d9541e"/><path d="M1776.500 636.500h8c5.500 0 9 3 9 7s-3.500 7-9 7h-8z" fill="#e2581e"/></g></svg></div><span class="t lb" style="left:62.6px;transform:scaleX(0.9026)">Color Grading</span></li>
<li class="item r3"><div class="ic"><svg viewBox="1591.5 723 280 96" aria-hidden="true"><rect x="1696.200" y="723.400" width="73.300" height="82.600" fill="#e2591f"/><rect x="1708" y="725.500" width="49" height="78.500" fill="#e5601f"/><g fill="#fde3c8"><rect x="1698.8" y="723.4" width="6" height="1.3" rx="1"/><rect x="1698.8" y="729.2" width="6" height="6.0" rx="1"/><rect x="1698.8" y="740.0" width="6" height="6.0" rx="1"/><rect x="1698.8" y="750.8" width="6" height="6.0" rx="1"/><rect x="1698.8" y="761.7" width="6" height="6.0" rx="1"/><rect x="1698.8" y="772.5" width="6" height="6.0" rx="1"/><rect x="1698.8" y="783.7" width="6" height="6.0" rx="1"/><rect x="1698.8" y="794.2" width="6" height="6.0" rx="1"/><rect x="1698.8" y="804.7" width="6" height="1.3" rx="1"/><rect x="1760.0" y="723.4" width="6" height="1.3" rx="1"/><rect x="1760.0" y="729.2" width="6" height="6.0" rx="1"/><rect x="1760.0" y="740.0" width="6" height="6.0" rx="1"/><rect x="1760.0" y="750.8" width="6" height="6.0" rx="1"/><rect x="1760.0" y="761.7" width="6" height="6.0" rx="1"/><rect x="1760.0" y="772.5" width="6" height="6.0" rx="1"/><rect x="1760.0" y="783.7" width="6" height="6.0" rx="1"/><rect x="1760.0" y="794.2" width="6" height="6.0" rx="1"/><rect x="1760.0" y="804.7" width="6" height="1.3" rx="1"/></g><path d="M1722.800 741.300l20.500 12.100-20.500 11.600z" fill="#fff4e8" stroke="#fff4e8" stroke-width="1.400" stroke-linejoin="round"/><text x="1731.600" y="783.500" text-anchor="middle" font-family="Liberation Sans,Arial,sans-serif" font-weight="700" font-size="11" textLength="40" lengthAdjust="spacingAndGlyphs" fill="#fff0e0">MOVIE</text><path d="M1712.400 790h39.200" stroke="#fbd3b4" stroke-width="3" fill="none"/><path d="M1717.800 796.300h30" stroke="#fbd3b4" stroke-width="2.600" fill="none"/></svg></div><span class="t lb" style="left:89.7px;transform:scaleX(0.8979)">Final Cut</span></li>
</ul></div>
</section>
<footer class="banner">
<div class="bhalf">
<div class="bi" style="left:98px;top:11px"><svg viewBox="171 933 60 60" aria-hidden="true"><path d="M180.300 956v-8.500c0-7 5-11.500 11.600-11.500s11.600 4.500 11.600 11.500v8.500" fill="none" stroke="#1c2a44" stroke-width="5"/><rect x="172.600" y="954.200" width="38.400" height="28.200" rx="4.500" fill="#1c2a44"/><path d="M191 960.500c2.400 0 4.200 1.800 4.200 4.200 0 1.600-.8 2.900-2 3.600l.8 6.700h-6l.8-6.700c-1.200-.7-2-2-2-3.600 0-2.400 1.800-4.200 4.200-4.200z" fill="#eef2fb"/><circle cx="215.200" cy="978.700" r="15" fill="#cdebef"/><path d="M213.0 969.8L213.4 966.2L217.0 966.2L217.4 969.8L219.9 970.8L222.8 968.6L225.3 971.1L223.1 974.0L224.1 976.5L227.7 976.9L227.7 980.5L224.1 980.9L223.1 983.4L225.3 986.3L222.8 988.8L219.9 986.6L217.4 987.6L217.0 991.2L213.4 991.2L213.0 987.6L210.5 986.6L207.6 988.8L205.1 986.3L207.3 983.4L206.3 980.9L202.7 980.5L202.7 976.9L206.3 976.5L207.3 974.0L205.1 971.1L207.6 968.6L210.5 970.8zM210.6 978.7a4.6 4.6 0 1 0 9.2 0a4.6 4.6 0 1 0 -9.2 0z" fill="#1c2a44" fill-rule="evenodd"/><circle cx="215.200" cy="978.700" r="4.600" fill="#e4ecf8"/></svg></div>
<h4 class="bh"><span class="t w" style="left:167.04px;transform:scaleX(0.9276)">Feasibility</span> <span class="t w" style="left:360.83px;transform:scaleX(0.8667)">&amp;</span> <span class="t w" style="left:396.68px;transform:scaleX(0.9211)">Control</span> <span class="t w" style="left:538.81px;transform:scaleX(0.9461)">(Producer)</span></h4>
<div class="bi" style="left:742px;top:11px"><svg viewBox="815 933 60 60" aria-hidden="true"><path d="M830.0 961.2L830.7 956.8L835.3 956.8L836.0 961.2L839.8 962.8L843.4 960.2L846.7 963.4L844.1 967.1L845.6 970.8L850.0 971.6L850.0 976.1L845.6 976.9L844.1 980.6L846.7 984.3L843.4 987.5L839.8 984.9L836.0 986.5L835.3 990.9L830.7 990.9L830.0 986.5L826.2 984.9L822.6 987.5L819.3 984.3L821.9 980.6L820.4 976.9L816.0 976.1L816.0 971.6L820.4 970.8L821.9 967.1L819.3 963.4L822.6 960.2L826.2 962.8zM825.6 973.9a7.4 7.4 0 1 0 14.8 0a7.4 7.4 0 1 0 -14.8 0z" fill="#1b2b44" fill-rule="evenodd" stroke="#1b2b44" stroke-width="1.200" stroke-linejoin="round"/><path d="M851.8 938.0L852.4 934.0L856.4 934.0L857.0 938.0L860.1 939.3L863.4 936.9L866.2 939.7L863.8 943.0L865.1 946.1L869.1 946.7L869.1 950.7L865.1 951.3L863.8 954.4L866.2 957.7L863.4 960.5L860.1 958.1L857.0 959.4L856.4 963.4L852.4 963.4L851.8 959.4L848.7 958.1L845.4 960.5L842.6 957.7L845.0 954.4L843.7 951.3L839.7 950.7L839.7 946.7L843.7 946.1L845.0 943.0L842.6 939.7L845.4 936.9L848.7 939.3zM848.1 948.7a6.3 6.3 0 1 0 12.6 0a6.3 6.3 0 1 0 -12.6 0z" fill="#1b2b44" fill-rule="evenodd" stroke="#1b2b44" stroke-width="1.200" stroke-linejoin="round"/><circle cx="833" cy="973.850" r="6.800" fill="#cfe9f3"/><circle cx="854.400" cy="948.700" r="5.800" fill="#cfe9f3"/></svg></div>
<p class="bs"><span class="t w" style="left:77.26px;transform:scaleX(0.8697)">Ensure</span> <span class="t w" style="left:167.5px;transform:scaleX(0.9275)">structure,</span> <span class="t w" style="left:287.26px;transform:scaleX(0.9387)">protection,</span> <span class="t w" style="left:423.11px;transform:scaleX(0.8908)">and</span> <span class="t w" style="left:474.78px;transform:scaleX(0.9187)">execution</span> <span class="t w" style="left:600.43px;transform:scaleX(0.9265)">within</span> <span class="t w" style="left:677.26px;transform:scaleX(0.9448)">constraints.</span></p>
</div><div class="bdiv"></div><div class="bhalf">
<div class="bi" style="left:1021px;top:11px"><svg viewBox="1094 933 60 60" aria-hidden="true"><g fill="#1d2b48"><circle cx="1103.300" cy="948.700" r="8.200"/><circle cx="1127" cy="946" r="11.200"/><rect x="1096.700" y="961.600" width="39.300" height="27.800" rx="4.500"/><path d="M1139.600 968.500l9.500-6.500c1-.7 1.700-.3 1.700 1v22c0 1.300-.7 1.700-1.700 1l-9.500-6z"/></g><path d="M1107.800 972c0-2.500 2-4 4.500-4h8.500c2.500 0 4.500 1.500 4.500 4l-8.800 9z" fill="#fbd5a0"/></svg></div>
<h4 class="bh b2"><span class="t w" style="left:1091.36px;transform:scaleX(0.9176)">Expression</span> <span class="t w" style="left:1299.23px;transform:scaleX(0.8704)">&amp;</span> <span class="t w" style="left:1335.09px;transform:scaleX(0.9108)">Story</span> <span class="t w" style="left:1439.5px;transform:scaleX(0.9513)">(Director)</span></h4>
<div class="bi" style="left:1625px;top:11px"><svg viewBox="1698 933 60 60" aria-hidden="true"><path d="M1698.900 952h54.400v34c0 2-1.400 3.400-3.400 3.400h-47.600c-2 0-3.400-1.400-3.400-3.400z" fill="#1d2b48"/><path d="M1698.900 944h6v9h-6z" fill="#1d2b48"/><g fill="#f4efe6"><path d="M1704.500 954h7l-4 5.400h-7zM1717.500 954h7l-4 5.400h-7zM1731 954h7l-4 5.400h-7zM1744.500 954h7l-4 5.400h-7z"/></g><g transform="rotate(-11.500 1699 948)"><rect x="1698.500" y="939.500" width="54" height="8.500" rx="1" fill="#1b2740"/><path d="M1702 941h6.500l5 5.500h-6.500zM1715.500 941h6.500l5 5.500h-6.500zM1729 941h6.500l5 5.500h-6.500zM1742.500 941h6.500l3.500 5.500h-5z" fill="#f4efe6"/></g><path d="M1726 983.500c-6-4.500-10.500-8.500-10.500-13 0-3.200 2.400-5.500 5.300-5.500 2.200 0 4 1.200 5.200 3 1.200-1.800 3-3 5.200-3 2.900 0 5.300 2.300 5.300 5.500 0 4.500-4.500 8.500-10.500 13z" fill="#fde4bc"/></svg></div>
<p class="bs"><span class="t w" style="left:1057.76px;transform:scaleX(0.8701)">Drive</span> <span class="t w" style="left:1126.7px;transform:scaleX(0.8634)">vision,</span> <span class="t w" style="left:1208.62px;transform:scaleX(0.8792)">performance,</span> <span class="t w" style="left:1375.8px;transform:scaleX(0.9015)">and</span> <span class="t w" style="left:1427.98px;transform:scaleX(0.9222)">emotional</span> <span class="t w" style="left:1553.85px;transform:scaleX(0.9523)">impact.</span></p>
</div></footer>
</main>
</body>
</html>
